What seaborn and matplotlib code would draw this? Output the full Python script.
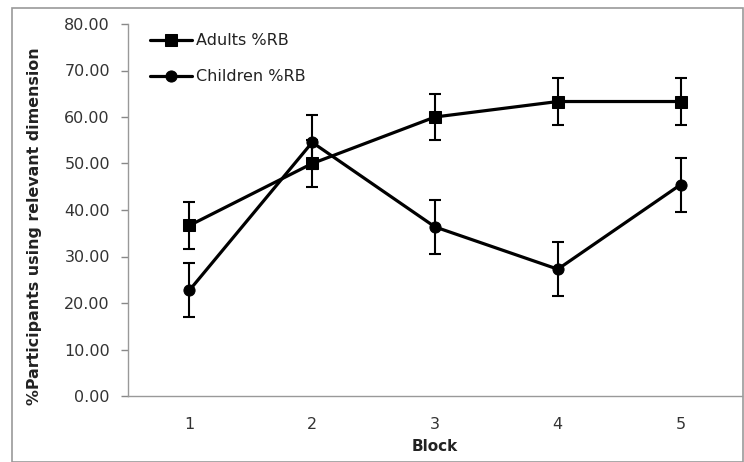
import matplotlib
matplotlib.use("Agg")
import matplotlib.pyplot as plt
import seaborn as sns
import pandas as pd
import numpy as np
from matplotlib.patches import Rectangle

blocks = [1, 2, 3, 4, 5]
adults = [36.67, 50.00, 60.00, 63.33, 63.33]
adults_err = [5.0, 5.0, 5.0, 5.0, 5.0]
children = [22.73, 54.55, 36.36, 27.27, 45.45]
children_err = [5.8, 5.8, 5.8, 5.8, 5.8]
series_names = ["Adults %RB", "Children %RB"]
yticks = [0, 10, 20, 30, 40, 50, 60, 70, 80]

df = pd.DataFrame({
    "Block": blocks * 2,
    "value": adults + children,
    "err": adults_err + children_err,
    "series": [series_names[0]] * 5 + [series_names[1]] * 5,
})

sns.set_style("white")
plt.rcParams['font.family'] = ['DejaVu Sans']

fig = plt.figure(figsize=(7.44, 4.62), dpi=100)
ax = fig.add_axes([128/744, 1-396/462, (742-128)/744, (396-24)/462])

for name, sub in df.groupby("series", sort=False):
    ax.errorbar(sub["Block"], sub["value"], yerr=sub["err"], fmt="none",
                ecolor="black", elinewidth=1.5, capsize=4, capthick=1.5, zorder=2)

sns.lineplot(data=df, x="Block", y="value", hue="series", style="series",
             markers={series_names[0]: "s", series_names[1]: "o"}, dashes=False,
             palette={series_names[0]: "black", series_names[1]: "black"},
             linewidth=2.3, markersize=8, markeredgecolor="black", ax=ax, zorder=3)

ax.set_xlim(0.5, 5.5)
ax.set_ylim(0, 80)
ax.set_yticks(yticks)
ax.set_yticklabels([f"{v:.2f}" for v in yticks], fontsize=11.5, color="#333333")
ax.set_xticks(np.arange(0.5, 6, 1))
ax.set_xticklabels([])
ax.set_xticks(blocks, minor=True)
ax.set_xticklabels([str(b) for b in blocks], minor=True, fontsize=11.5, color="#333333")
ax.tick_params(axis="x", which="major", direction="out", length=5, color="#888888", width=1)
ax.tick_params(axis="x", which="minor", length=0, pad=15)
ax.tick_params(axis="y", direction="out", length=5, color="#888888", width=1, left=True, pad=8)

for s in ["top", "right"]:
    ax.spines[s].set_visible(False)
for s in ["left", "bottom"]:
    ax.spines[s].set_color("#999999")
    ax.spines[s].set_linewidth(1)

ax.set_xlabel("Block", fontsize=11, fontweight="bold", labelpad=5, color="#222222")
ax.set_ylabel("%Participants using relevant dimension", fontsize=11.4, fontweight="bold",
              color="#222222", va="center")
ax.yaxis.set_label_coords(-0.153, 0.457)

leg = ax.legend(loc="upper left", bbox_to_anchor=(0.026, 0.992), frameon=False, fontsize=11.5,
                handlelength=2.6, handletextpad=0.25, labelspacing=1.3, borderaxespad=0)
for t in leg.get_texts():
    t.set_color("#222222")

fig.patches.append(Rectangle((12/744, 0), (743-12)/744, 1-8/462, transform=fig.transFigure,
                             fill=False, edgecolor="#999999", linewidth=1.2))

fig.savefig("out.png", dpi=100)
